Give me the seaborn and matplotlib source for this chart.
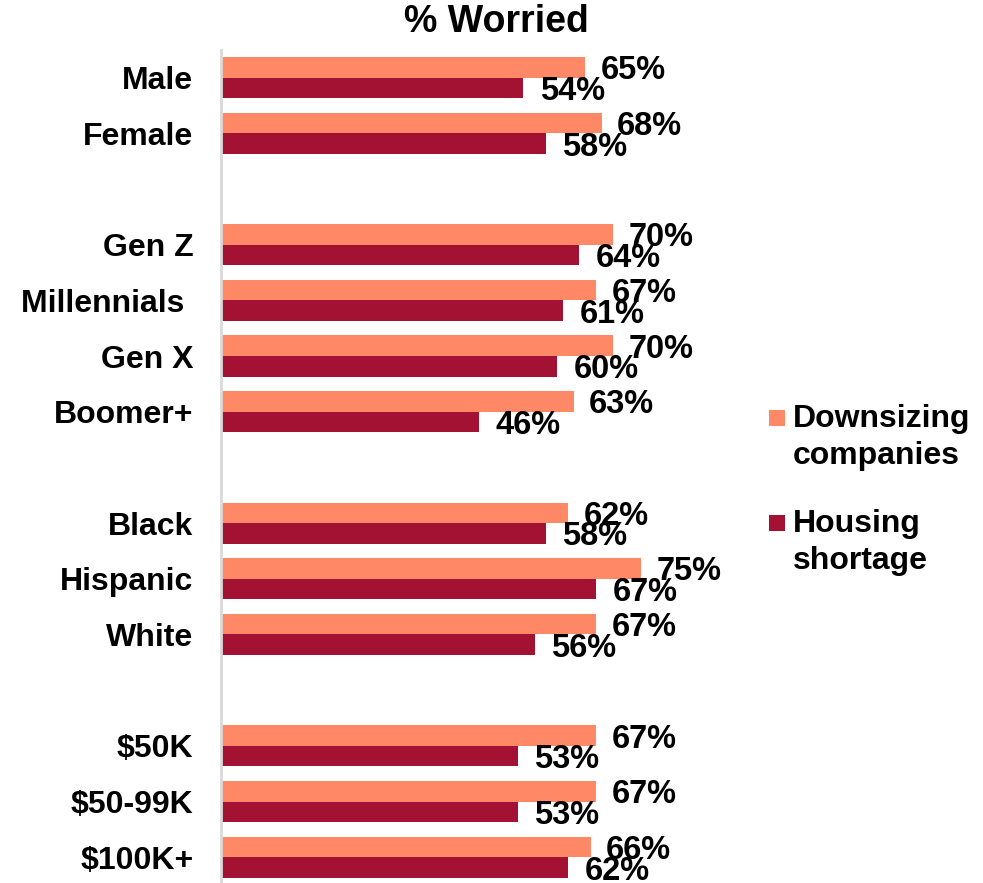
import matplotlib
matplotlib.use("Agg")
import matplotlib.pyplot as plt
from matplotlib.patches import Rectangle
import seaborn as sns
import pandas as pd

categories = ["Male", "Female", "Gen Z", "Millennials ", "Gen X", "Boomer+",
              "Black", "Hispanic", "White", "$50K", "$50-99K", "$100K+"]
downsizing = [65, 68, 70, 67, 70, 63, 62, 75, 67, 67, 67, 66]
housing = [54, 58, 64, 61, 60, 46, 58, 67, 56, 53, 53, 62]
series_names = ["Downsizing\ncompanies", "Housing\nshortage"]
colors = ["#FF8866", "#A31233"]
order = ["Male", "Female", " ", "Gen Z", "Millennials ", "Gen X", "Boomer+", "  ",
         "Black", "Hispanic", "White", "   ", "$50K", "$50-99K", "$100K+"]

sns.set_theme(style="white")
plt.rcParams["font.family"] = ["Liberation Sans", "DejaVu Sans"]
plt.rcParams["font.weight"] = "bold"
plt.rcParams["text.color"] = "black"
plt.rcParams["ytick.color"] = "black"
plt.rcParams["ytick.labelcolor"] = "black"

rows = []
for c, d, h in zip(categories, downsizing, housing):
    rows.append({"cat": c, "series": series_names[0], "val": d})
    rows.append({"cat": c, "series": series_names[1], "val": h})
df = pd.DataFrame(rows)

fig = plt.figure(figsize=(9.83, 8.83), dpi=100)
ax = fig.add_axes([221/983, -0.0024, 560/983, 0.9461])
sns.barplot(data=df, y="cat", x="val", hue="series", order=order,
            hue_order=series_names, palette=colors, orient="h",
            width=0.74, gap=0, ax=ax, errorbar=None, saturation=1,
            linewidth=0, legend=False)

pads = [11, 12]
for cont, p in zip(ax.containers, pads):
    anns = ax.bar_label(cont, fmt="{:.0f}%", padding=p, fontsize=23.5,
                        fontweight="bold", color="black")
    for a in anns:
        a.xyann = (p, -2.5)

ax.set_xlim(0, 100)
ax.set_ylim(len(order) - 0.5, -0.5)
ax.set_xlabel("")
ax.set_ylabel("")
ax.set_xticks([])
ax.tick_params(axis="y", length=0, pad=20, labelsize=23, labelcolor="black")
for lbl in ax.get_yticklabels():
    lbl.set_fontweight("bold")
for s in ["top", "right", "bottom"]:
    ax.spines[s].set_visible(False)
ax.spines["left"].set_color("#D9D9D9")
ax.spines["left"].set_linewidth(2)

# legend (square marker aligned with first line of each label)
leg_y = [419, 524]
for name, col, y in zip(series_names, colors, leg_y):
    fig.patches.append(Rectangle((769/983, 1 - (y + 7)/883), 16/983, 16/883,
                                 transform=fig.transFigure, facecolor=col,
                                 edgecolor="none"))
    fig.text(793/983, 1 - (y - 15)/883, name, ha="left", va="top",
             fontsize=23, fontweight="bold", color="black", linespacing=1.3)

fig.text(496.5/983, 1 - 22/883, "% Worried", ha="center", va="center",
         fontsize=27, fontweight="bold", color="black")

fig.savefig("out.png", dpi=100)
